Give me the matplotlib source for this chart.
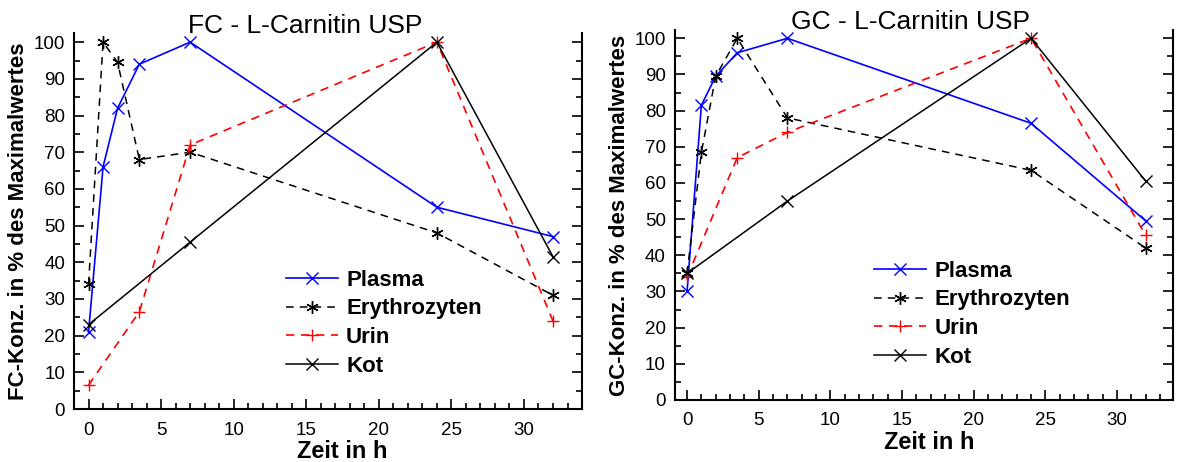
import numpy as np
import matplotlib.pyplot as plt
from matplotlib.ticker import MultipleLocator

plt.rcParams['font.family'] = ['Liberation Sans', 'DejaVu Sans']

# FC panel
fc_plasma_t = [0, 1, 2, 3.5, 7, 24, 32]
fc_plasma = [21, 66, 82, 94, 100, 55, 47]
fc_ery_t = [0, 1, 2, 3.5, 7, 24, 32]
fc_ery = [34, 100, 94.5, 68, 70, 48, 31]
fc_urin_t = [0, 3.5, 7, 24, 32]
fc_urin = [6.5, 26.5, 72, 100, 24]
fc_kot_t = [0, 7, 24, 32]
fc_kot = [23, 45.5, 100, 41.5]

# GC panel
gc_plasma_t = [0, 1, 2, 3.5, 7, 24, 32]
gc_plasma = [30, 81.5, 89.5, 96, 100, 76.5, 49.5]
gc_ery_t = [0, 1, 2, 3.5, 7, 24, 32]
gc_ery = [35, 68.5, 89.5, 100, 78, 63.5, 42]
gc_urin_t = [0, 3.5, 7, 24, 32]
gc_urin = [34, 67, 74, 100, 45.5]
gc_kot_t = [0, 7, 24, 32]
gc_kot = [35, 55, 100, 60.5]

asterisk = (6, 2, 0)


def panel(ax, data, ylabel, xlim, ylim, leg_pos, xlabel_x):
    (pt, p), (et, e), (ut, u), (kt, k) = data
    ax.plot(pt, p, color='blue', lw=1.2, marker='x', ms=8, mew=1, label='Plasma')
    ax.plot(et, e, color='black', lw=1.1, ls=(0, (5, 4)), marker=asterisk, ms=9,
            mew=1, label='Erythrozyten')
    ax.plot(ut, u, color='red', lw=1.2, ls=(0, (5, 4)), marker='+', ms=9, mew=1,
            label='Urin')
    ax.plot(kt, k, color='black', lw=1.1, marker='x', ms=8, mew=1, label='Kot')

    ax.set_xlim(*xlim)
    ax.set_ylim(*ylim)
    ax.xaxis.set_major_locator(MultipleLocator(5))
    ax.xaxis.set_minor_locator(MultipleLocator(1))
    ax.yaxis.set_major_locator(MultipleLocator(10))
    ax.yaxis.set_minor_locator(MultipleLocator(5))
    ax.tick_params(which='both', direction='in', right=True, top=False,
                   labelsize=13.5, width=1.2)
    ax.tick_params(which='major', length=7)
    ax.tick_params(which='minor', length=4)
    ax.tick_params(axis='x', pad=9)
    ax.tick_params(axis='y', pad=6.5)
    ax.spines['top'].set_visible(False)
    for s in ['left', 'bottom', 'right']:
        ax.spines[s].set_linewidth(1.5)

    ax.set_xlabel('Zeit in h', fontsize=17, fontweight='bold', labelpad=1,
                  x=xlabel_x)
    ax.set_ylabel(ylabel, fontsize=16, fontweight='bold', labelpad=3)

    ax.legend(loc='upper left', bbox_to_anchor=leg_pos, frameon=False,
              borderpad=0, borderaxespad=0,
              handlelength=2.35, handletextpad=0.36, labelspacing=0.34,
              prop={'size': 16, 'weight': 'bold'})


fig = plt.figure(figsize=(11.77, 4.62), dpi=100)
ax1 = fig.add_axes([0.0629, 0.1147, 0.4316, 0.8139])
ax2 = fig.add_axes([0.5735, 0.1342, 0.4231, 0.8009])

panel(ax1, [(fc_plasma_t, fc_plasma), (fc_ery_t, fc_ery), (fc_urin_t, fc_urin),
            (fc_kot_t, fc_kot)],
      'FC-Konz. in % des Maximalwertes', (-1.0, 34.0), (0, 102.5), (0.417, 0.370),
      0.528)
panel(ax2, [(gc_plasma_t, gc_plasma), (gc_ery_t, gc_ery), (gc_urin_t, gc_urin),
            (gc_kot_t, gc_kot)],
      'GC-Konz. in % des Maximalwertes', (-0.84, 33.9), (0, 102.3), (0.40, 0.376),
      0.51)

fig.text(0.259, 1 - 33 / 462, 'FC - L-Carnitin USP', fontsize=19,
         ha='center', va='baseline')
fig.text(0.774, 1 - 29 / 462, 'GC - L-Carnitin USP', fontsize=19,
         ha='center', va='baseline')

fig.savefig('out.png', dpi=100)
